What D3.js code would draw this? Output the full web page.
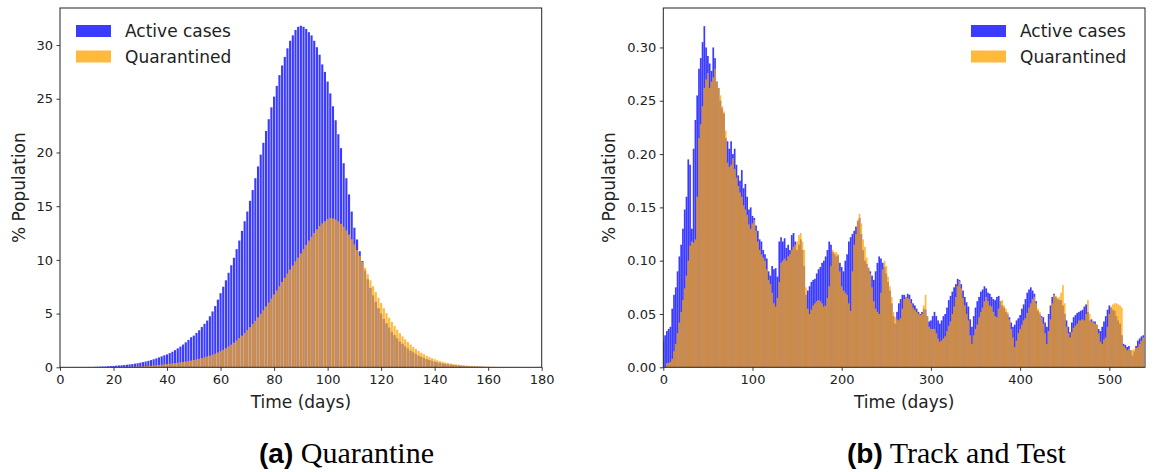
<!doctype HTML>
<html lang='en'>
<head>
	<meta charset='utf-8'>
	<title>Active cases vs quarantined</title>
	<script src='https://d3js.org/d3.v7.min.js'></script>
	<style>
		html, body { margin: 0; padding: 0; background: #fff; }
		#container { width: 1153px; height: 472px; }
		.tick text { font-family: 'DejaVu Sans', sans-serif; font-size: 13px; fill: #222; }
		.tick line { stroke: #222; stroke-width: 0.9; }
		.lbl { font-family: 'DejaVu Sans', sans-serif; font-size: 17px; fill: #222; }
	</style>
</head>
<body>
	<div id='container'></div>
<script>
	// (a) Quarantine: one value per day, days 0..179 (% population)
	const activeA = [
		0,0,0,0,0,0,0,.01,.01,.01,
		.02,.03,.03,.04,.05,.06,.07,.08,.10,.11,
		.13,.15,.17,.19,.21,.24,.27,.30,.34,.38,
		.43,.48,.54,.60,.67,.75,.83,.92,1.02,1.12,
		1.20,1.32,1.45,1.60,1.76,1.93,2.12,2.33,2.55,2.80,
		2.95,3.20,3.45,3.75,4.05,4.35,4.75,5.20,5.70,6.30,
		6.9,7.5,8.1,8.8,9.5,10.2,11.0,11.8,12.7,13.6,
		14.5,15.5,16.5,17.6,18.7,19.8,20.9,22.0,23.1,24.2,
		25.2,26.2,27.2,28.1,28.9,29.7,30.4,30.9,31.4,31.7,
		31.8,31.7,31.5,31.2,30.9,30.4,29.8,29.1,28.2,27.5,
		26.6,25.5,24.3,23.0,21.7,20.4,19.0,17.6,16.1,14.5,
		13.0,11.9,10.8,9.9,9.0,8.2,7.4,6.7,6.1,5.5,
		5.0,4.5,4.1,3.7,3.3,3.0,2.7,2.4,2.2,1.95,
		1.75,1.55,1.40,1.25,1.10,.98,.87,.77,.68,.60,
		.53,.47,.41,.36,.32,.28,.25,.22,.19,.17,
		.15,.13,.11,.10,.09,.08,.07,.06,.05,.04,
		.035,.03,.025,.02,.02,.015,.01,.01,.01,.005,
		0,0,0,0,0,0,0,0,0,0
	];
	const quarantinedA = [
		0,0,0,0,0,0,0,0,0,0,
		0,0,0,0,0,0,0,0,.005,.005,
		.01,.01,.02,.02,.03,.03,.04,.05,.06,.07,
		.08,.09,.11,.12,.14,.16,.18,.21,.24,.27,
		.30,.33,.36,.39,.42,.46,.50,.54,.58,.63,
		.68,.73,.79,.85,.92,1.00,1.08,1.17,1.27,1.38,
		1.50,1.63,1.78,1.94,2.11,2.30,2.50,2.72,2.95,3.20,
		3.46,3.74,4.03,4.33,4.65,4.98,5.32,5.67,6.03,6.40,
		6.78,7.16,7.55,7.94,8.33,8.72,9.10,9.48,9.85,10.21,
		10.6,11.0,11.4,11.8,12.15,12.5,12.85,13.15,13.4,13.6,
		13.8,13.9,13.85,13.75,13.58,13.36,13.08,12.75,12.36,11.92,
		11.44,10.92,10.38,9.82,9.25,8.67,8.10,7.54,7.00,6.48,
		5.98,5.50,5.05,4.62,4.22,3.85,3.50,3.18,2.88,2.60,
		2.35,2.12,1.90,1.70,1.52,1.36,1.21,1.08,.96,.85,
		.75,.66,.58,.51,.45,.40,.35,.31,.27,.24,
		.21,.18,.16,.14,.12,.10,.09,.08,.07,.06,
		.05,.04,.035,.03,.025,.02,.015,.01,.01,.01,
		.005,0,0,0,0,0,0,0,0,0
	];
	const daysA = d3.range(0, 180);

	// (b) Track and Test: one value every 2 days, days 0..538 (% population)
	const activeB = [
		.025,.030,.034,.036,.038,.055,.068,.075,.090,.104,
		.115,.130,.148,.160,.195,.190,.130,.205,.232,.255,
		.280,.290,.305,.320,.300,.292,.285,.278,.300,.290,
		.268,.262,.250,.243,.238,.215,.212,.205,.212,.200,
		.205,.190,.180,.175,.185,.168,.172,.160,.148,.150,
		.142,.140,.133,.128,.120,.118,.110,.106,.102,.090,
		.086,.095,.092,.093,.085,.118,.122,.118,.121,.112,
		.115,.110,.124,.126,.118,.110,.115,.120,.110,.095,
		.068,.072,.076,.080,.082,.083,.088,.092,.094,.098,
		.100,.104,.110,.118,.115,.108,.106,.104,.105,.098,
		.094,.090,.100,.106,.118,.122,.125,.128,.132,.137,
		.140,.125,.110,.100,.097,.093,.090,.086,.082,.090,
		.098,.104,.102,.098,.094,.088,.080,.072,.060,.048,
		.041,.052,.060,.064,.068,.068,.066,.069,.068,.064,
		.060,.058,.055,.052,.050,.052,.055,.054,.048,.043,
		.044,.048,.052,.048,.044,.041,.044,.048,.050,.056,
		.063,.067,.071,.075,.078,.083,.082,.078,.072,.066,
		.061,.057,.045,.038,.048,.056,.062,.066,.071,.073,
		.076,.074,.070,.069,.066,.064,.063,.066,.067,.062,
		.058,.056,.052,.050,.047,.042,.038,.040,.044,.046,
		.049,.055,.059,.064,.070,.073,.075,.072,.069,.062,
		.053,.050,.048,.047,.042,.038,.050,.058,.066,.069,
		.066,.064,.063,.063,.058,.050,.044,.038,.033,.042,
		.047,.049,.051,.052,.053,.054,.057,.059,.052,.044,
		.045,.043,.043,.040,.036,.034,.038,.043,.048,.054,
		.058,.056,.054,.053,.048,.044,.041,.030,.022,.021,
		.019,.020,.016,.011,.015,.020,.025,.027,.029,.030
	];
	const quarantinedB = [
		0,0,.004,.004,.005,.008,.015,.022,.032,.042,
		.052,.063,.074,.086,.100,.114,.118,.117,.120,.160,
		.215,.228,.245,.262,.270,.276,.262,.268,.272,.280,
		.268,.262,.255,.245,.240,.222,.192,.188,.190,.196,
		.186,.178,.170,.164,.160,.152,.148,.143,.134,.130,
		.135,.138,.128,.118,.110,.106,.103,.100,.092,.082,
		.078,.070,.060,.057,.065,.080,.098,.100,.102,.100,
		.104,.106,.110,.113,.115,.118,.124,.126,.118,.110,
		.075,.055,.050,.054,.058,.060,.062,.063,.062,.060,
		.057,.058,.065,.076,.095,.110,.108,.108,.106,.090,
		.076,.072,.070,.068,.060,.053,.090,.115,.125,.138,
		.144,.135,.120,.113,.103,.094,.088,.075,.062,.055,
		.052,.050,.070,.092,.100,.095,.085,.076,.066,.052,
		.047,.045,.044,.046,.055,.064,.066,.065,.064,.060,
		.056,.054,.052,.050,.049,.050,.058,.068,.048,.038,
		.036,.036,.036,.032,.027,.024,.025,.027,.029,.034,
		.039,.043,.050,.057,.066,.076,.081,.074,.065,.058,
		.050,.044,.030,.022,.030,.036,.040,.047,.052,.056,
		.062,.066,.062,.058,.057,.052,.048,.047,.055,.062,
		.063,.058,.055,.052,.045,.036,.028,.019,.025,.032,
		.036,.040,.044,.046,.051,.056,.060,.064,.066,.060,
		.055,.052,.047,.041,.032,.022,.034,.045,.060,.068,
		.067,.065,.066,.070,.077,.060,.038,.032,.028,.033,
		.037,.039,.041,.044,.044,.045,.044,.050,.063,.050,
		.043,.042,.041,.040,.032,.024,.022,.026,.028,.038,
		.050,.057,.059,.060,.060,.059,.058,.056,.020,.018,
		.016,.017,.016,.016,.017,.018,.019,.022,.025,.028
	];
	const daysB = d3.range(0, 540, 2);

	const ticksXA = [0, 20, 40, 60, 80, 100, 120, 140, 160, 180];
	const ticksYA = [0, 5, 10, 15, 20, 25, 30];
	const ticksXB = [0, 100, 200, 300, 400, 500];
	const ticksYB = [0, 0.05, 0.10, 0.15, 0.20, 0.25, 0.30];

	const seriesNames = ['Active cases', 'Quarantined'];
	const colors = ['blue', 'orange'];
	const alpha = 0.77;

	const svg = d3.select('#container').append('svg')
		.attr('width', 1153)
		.attr('height', 472);

	function drawPanel(p) {
		const x = d3.scaleLinear().domain(p.xDomain).range([p.left, p.right]);
		const y = d3.scaleLinear().domain(p.yDomain).range([p.bottom, p.top]);

		const g = svg.append('g');

		g.append('clipPath').attr('id', p.id)
			.append('rect')
			.attr('x', p.left).attr('y', p.top)
			.attr('width', p.right - p.left).attr('height', p.bottom - p.top);

		const bars = g.append('g').attr('clip-path', 'url(#' + p.id + ')');
		const bw = x(p.step * p.barFrac) - x(0);

		[p.active, p.quar].forEach((vals, k) => {
			bars.append('g')
				.selectAll('rect')
				.data(vals.map((v, i) => ({day: p.days[i], value: v})).filter(d => d.value > 0))
				.enter()
				.append('rect')
				.attr('x', d => x(d.day) - bw / 2)
				.attr('y', d => y(d.value))
				.attr('width', bw)
				.attr('height', d => y(0) - y(d.value))
				.attr('fill', colors[k])
				.attr('fill-opacity', alpha);
		});

		// Axes
		const xAxis = g.append('g')
			.attr('transform', 'translate(0,' + p.bottom + ')')
			.call(d3.axisBottom(x).tickValues(p.xTicks).tickSize(3.5).tickPadding(3.5).tickSizeOuter(0));
		const yAxis = g.append('g')
			.attr('transform', 'translate(' + p.left + ',0)')
			.call(d3.axisLeft(y).tickValues(p.yTicks).tickFormat(d3.format(p.yFormat))
				.tickSize(3.5).tickPadding(3.5).tickSizeOuter(0));
		[xAxis, yAxis].forEach(a => {
			a.attr('font-family', null).attr('font-size', null);
			a.select('.domain').remove();
		});

		// Spines
		g.append('rect')
			.attr('x', p.left).attr('y', p.top)
			.attr('width', p.right - p.left).attr('height', p.bottom - p.top)
			.attr('fill', 'none').attr('stroke', '#222').attr('stroke-width', 1);

		g.append('text').attr('class', 'lbl')
			.attr('x', (p.left + p.right) / 2).attr('y', 408)
			.attr('text-anchor', 'middle')
			.text('Time (days)');

		g.append('text').attr('class', 'lbl')
			.attr('transform', 'translate(' + p.ylabelX + ',' + ((p.top + p.bottom) / 2) + ') rotate(-90)')
			.attr('text-anchor', 'middle')
			.attr('dy', '0.35em')
			.text('% Population');

		// Legend
		const legend = g.selectAll('.legend')
			.data(seriesNames)
			.enter()
			.append('g')
			.attr('transform', (d, i) => 'translate(' + p.legendX + ',' + (25 + i * 25.5) + ')');
		legend.append('rect')
			.attr('width', 35).attr('height', 12)
			.attr('fill', (d, i) => colors[i])
			.attr('fill-opacity', alpha);
		legend.append('text').attr('class', 'lbl')
			.attr('x', 49).attr('y', 12)
			.text(d => d);

		// Caption
		const cap = g.append('text')
			.attr('x', p.captionX).attr('y', 463)
			.attr('fill', '#000');
		cap.append('tspan')
			.attr('font-family', "'Liberation Sans', Arial, sans-serif")
			.attr('font-weight', 'bold')
			.attr('font-size', '28px')
			.text(p.tag);
		cap.append('tspan')
			.attr('font-family', "'Liberation Serif', 'Times New Roman', serif")
			.attr('font-size', '30px')
			.text(' ' + p.caption);
	}

	drawPanel({
		id: 'clipA', left: 60, right: 541.7, top: 8, bottom: 367.3,
		xDomain: [0, 180], yDomain: [0, 33.45], step: 1, barFrac: 0.8,
		days: daysA, active: activeA, quar: quarantinedA,
		xTicks: ticksXA, yTicks: ticksYA, yFormat: 'd',
		legendX: 76, ylabelX: 19, captionX: 259,
		tag: '(a)', caption: 'Quarantine'
	});

	drawPanel({
		id: 'clipB', left: 663.3, right: 1145, top: 8, bottom: 367.3,
		xDomain: [0, 540], yDomain: [0, 0.337], step: 2, barFrac: 0.95,
		days: daysB, active: activeB, quar: quarantinedB,
		xTicks: ticksXB, yTicks: ticksYB, yFormat: '.2f',
		legendX: 971, ylabelX: 609.5, captionX: 847,
		tag: '(b)', caption: 'Track and Test'
	});
</script>
</body>
</html>
